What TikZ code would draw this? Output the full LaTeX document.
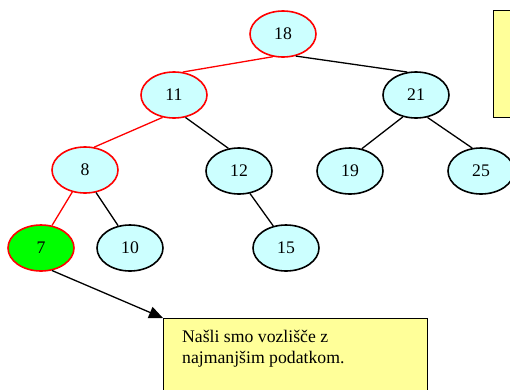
\documentclass[tikz,border=0pt]{standalone}
\usepackage{fontspec}
\setmainfont{Liberation Serif}
\usetikzlibrary{shapes.geometric,arrows.meta}
\definecolor{keyfill}{HTML}{CCFFFF}
\definecolor{hitfill}{HTML}{00FF00}
\definecolor{notefill}{HTML}{FFFF99}
\definecolor{pathred}{HTML}{FF0000}
\tikzset{
  key/.style={ellipse, draw=black, line width=1.6pt, fill=keyfill,
    minimum width=66pt, minimum height=46pt, inner sep=0pt,
    font=\fontsize{17.7}{20.5}\selectfont},
  onpath/.style={draw=pathred},
  found/.style={fill=hitfill},
  edge/.style={line width=1.3pt, draw=black},
  rededge/.style={line width=1.3pt, draw=pathred},
  notebox/.style={rectangle, draw=black, line width=1.3pt, fill=notefill,
    anchor=north west, inner sep=0pt},
  notetext/.style={anchor=north west, align=left, inner sep=0pt,
    font=\fontsize{17.7}{20.5}\selectfont}
}
\begin{document}
\begin{tikzpicture}[x=1pt, y=-1pt]
  \useasboundingbox (0,0) rectangle (510,389);
  \clip (0,0) rectangle (510,389);

  % binary search tree
  \node[key, onpath] (n18) at (283,34) {18};
  \node[key, onpath] (n11) at (174,95) {11};
  \node[key] (n21) at (416,95) {21};
  \node[key, onpath] (n8) at (85,170) {8};
  \node[key] (n12) at (239,171) {12};
  \node[key] (n19) at (350,171) {19};
  \node[key] (n25) at (481,171) {25};
  \node[key, onpath, found] (n7) at (41,248) {7};
  \node[key] (n10) at (130,248) {10};
  \node[key] (n15) at (286,248) {15};

  % branches; the walk to the minimum is drawn in red
  \draw[rededge] (n18.246) -- (n11.69);
  \draw[edge] (n18.300) -- (n21.111);
  \draw[rededge] (n11.243) -- (n8.68);
  \draw[edge] (n11.297) -- (n12.115);
  \draw[rededge] (n8.240) -- (n7.64);
  \draw[edge] (n8.296) -- (n10.118);
  \draw[edge] (n21.239) -- (n19.62);
  \draw[edge] (n21.297) -- (n25.111);
  \draw[edge] (n12.296) -- (n15.120);

  % callouts
  \node[notebox, minimum width=40pt, minimum height=107pt] (side) at (493,10) {};
  \node[notebox, minimum width=264pt, minimum height=90pt] (note) at (163,318) {};
  \node[notetext] (notetxt) at (182,330) {Našli smo vozlišče z\\najmanjšim podatkom.};

  \draw[line width=1.3pt, -{Triangle[length=14pt,width=12pt]}] (n7.296) -- (note.north west);
\end{tikzpicture}
\end{document}
